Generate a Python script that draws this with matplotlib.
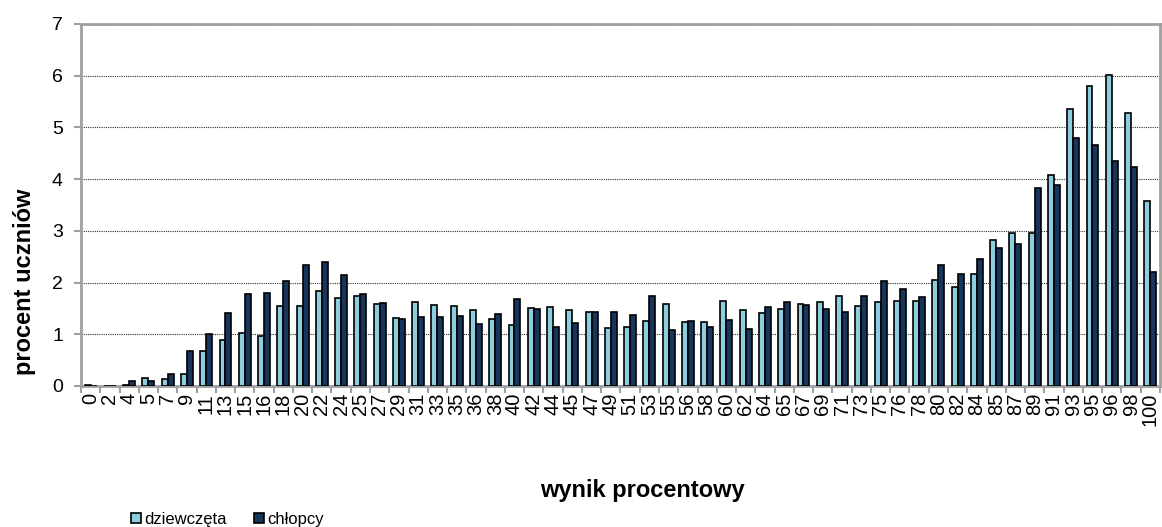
import numpy as np
import matplotlib.pyplot as plt

plt.rcParams['font.family'] = ['Liberation Sans', 'DejaVu Sans']

wynik = ['0', '2', '4', '5', '7', '9', '11', '13', '15', '16', '18', '20', '22', '24',
         '25', '27', '29', '31', '33', '35', '36', '38', '40', '42', '44', '45', '47',
         '49', '51', '53', '55', '56', '58', '60', '62', '64', '65', '67', '69', '71',
         '73', '75', '76', '78', '80', '82', '84', '85', '87', '89', '91', '93', '95',
         '96', '98', '100']

dziewczeta = [0.01, 0.0, 0.02, 0.15, 0.13, 0.24, 0.68, 0.88, 1.03, 0.97, 1.54, 1.55,
              1.83, 1.70, 1.74, 1.59, 1.32, 1.62, 1.56, 1.55, 1.46, 1.29, 1.18, 1.50,
              1.53, 1.46, 1.44, 1.12, 1.14, 1.26, 1.59, 1.24, 1.24, 1.65, 1.46, 1.41,
              1.48, 1.59, 1.62, 1.74, 1.55, 1.62, 1.65, 1.65, 2.04, 1.92, 2.17, 2.82,
              2.96, 2.95, 4.07, 5.35, 5.81, 6.02, 5.27, 3.57]

chlopcy = [0.0, 0.0, 0.09, 0.09, 0.23, 0.68, 1.01, 1.42, 1.77, 1.79, 2.03, 2.33,
           2.40, 2.14, 1.77, 1.61, 1.30, 1.34, 1.34, 1.35, 1.19, 1.39, 1.68, 1.48,
           1.15, 1.21, 1.43, 1.43, 1.37, 1.74, 1.08, 1.25, 1.15, 1.28, 1.10, 1.52,
           1.63, 1.56, 1.48, 1.44, 1.74, 2.03, 1.88, 1.73, 2.34, 2.16, 2.46, 2.66,
           2.75, 3.83, 3.89, 4.79, 4.66, 4.36, 4.23, 2.21]

x = np.arange(len(wynik))
w = 0.31

fig = plt.figure(figsize=(11.62, 5.27), dpi=100)
ax = fig.add_axes([0.0697, 0.2676, 0.9285, 0.6869])

ax.bar(x - w / 2, dziewczeta, w, color='#8DCDE0', edgecolor='black', linewidth=1.2,
       label='dziewczęta', zorder=3)
ax.bar(x + w / 2, chlopcy, w, color='#17365D', edgecolor='black', linewidth=1.2,
       label='chłopcy', zorder=3)

ax.set_xlim(-0.5, len(wynik) - 0.5)
ax.set_ylim(0, 7)
ax.set_yticks(range(8))
ax.yaxis.grid(True, linestyle=(0, (1, 1)), color='#303030', linewidth=0.8, zorder=0)

ax.set_xticks(x)
ax.set_xticklabels(wynik, rotation=90)
ax.set_xticks(np.arange(-0.5, len(wynik)), minor=True)
ax.tick_params(axis='x', which='major', length=0, pad=5, labelsize=14.5)
ax.tick_params(axis='x', which='minor', length=5, width=1.5, color='#a0a0a0')
ax.tick_params(axis='y', length=5, width=1.5, color='#a0a0a0', labelsize=14, pad=8)

for s in ax.spines.values():
    s.set_color('#a0a0a0')
    s.set_linewidth(2)

# axis titles placed like in the original (Excel) chart
fig.text(0.0207, 0.465, 'procent uczniów', rotation=90, ha='center', va='center',
         fontsize=17, fontweight='bold')
fig.text(0.553, 0.07, 'wynik procentowy', ha='center', va='center', fontsize=17,
         fontweight='bold')

fig.legend(loc='lower left', bbox_to_anchor=(0.1, -0.028), ncol=2, frameon=False,
           fontsize=12, handlelength=0.6, handleheight=0.6, handletextpad=0.2,
           columnspacing=1.6)

fig.savefig('out.png', dpi=100)
